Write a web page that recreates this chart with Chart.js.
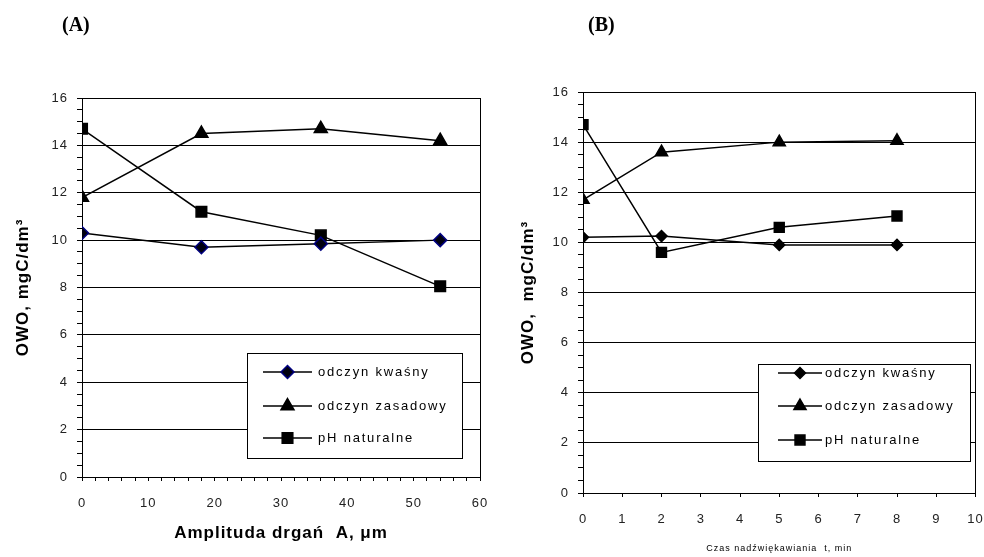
<!DOCTYPE html>
<html>
<head>
<meta charset="utf-8">
<script src="https://cdn.jsdelivr.net/npm/chart.js@4/dist/chart.umd.min.js"></script>
<style>
    body { margin: 0; background: #fff; }
    .wrap { position: absolute; top: 0; height: 557px; }
    #wrap-a { left: 0; width: 492px; }
    #wrap-b { left: 490px; width: 494px; }
</style>
</head>
<body>
<div class="wrap" id="wrap-a"><canvas id="chart-a"></canvas></div>
<div class="wrap" id="wrap-b"><canvas id="chart-b"></canvas></div>
<script>
const seriesNames = ['odczyn kwaśny', 'odczyn zasadowy', 'pH naturalne']

// (A) amplituda drgań, µm
const amplitudes = [0, 18, 36, 54]
const ampKwasny = [10.3, 9.7, 9.85, 10.0]
const ampZasadowy = [11.8, 14.5, 14.7, 14.2]
const ampNaturalne = [14.7, 11.2, 10.2, 8.05]

// (B) czas nadźwiękawiania, min
const times = [0, 2, 5, 8]
const timeKwasny = [10.2, 10.25, 9.9, 9.9]
const timeZasadowy = [11.7, 13.6, 14.0, 14.05]
const timeNaturalne = [14.7, 9.6, 10.6, 11.05]

const FONT = "'Liberation Sans', Arial, sans-serif"

const toPoints = (xs, ys) => xs.map((x, i) => ({x, y: ys[i]}))

const isMajor = (v, step) => Math.abs(v / step - Math.round(v / step)) < 1e-9

// old Excel text is spaced out a bit
const spacedText = {
    id: 'spacedText',
    beforeDraw(chart) { chart.ctx.letterSpacing = '1px' },
    afterDraw(chart) { chart.ctx.letterSpacing = '0px' }
}

// panel label "(A)" / "(B)"
const panelLabel = {
    id: 'panelLabel',
    afterDraw(chart, args, opts) {
        const ctx = chart.ctx
        ctx.save()
        ctx.letterSpacing = '0px'
        ctx.font = "bold 20px 'Liberation Serif', 'Times New Roman', serif"
        ctx.fillStyle = '#000'
        ctx.textBaseline = 'middle'
        ctx.fillText(opts.text, opts.x, opts.y)
        ctx.restore()
    }
}

// boxed legend inside the plot, like the Excel original
const boxLegend = {
    id: 'boxLegend',
    afterDraw(chart, args, opts) {
        const ctx = chart.ctx
        ctx.save()
        ctx.fillStyle = '#fff'
        ctx.fillRect(opts.x, opts.y, opts.w, opts.h)
        ctx.strokeStyle = '#000'
        ctx.lineWidth = 1
        ctx.strokeRect(opts.x + 0.5, opts.y + 0.5, opts.w, opts.h)
        chart.data.datasets.forEach((ds, i) => {
            const y = opts.rows[i]
            ctx.strokeStyle = '#000'
            ctx.lineWidth = 1.5
            ctx.beginPath()
            ctx.moveTo(opts.lineX1, y)
            ctx.lineTo(opts.lineX2, y)
            ctx.stroke()
            ctx.fillStyle = ds.pointBackgroundColor
            ctx.strokeStyle = ds.pointBorderColor
            Chart.helpers.drawPoint(ctx, {
                pointStyle: ds.pointStyle,
                radius: ds.pointRadius,
                borderWidth: ds.pointBorderWidth,
                rotation: 0
            }, (opts.lineX1 + opts.lineX2) / 2, y)
            ctx.fillStyle = '#000'
            ctx.font = '13px ' + FONT
            ctx.letterSpacing = '1.8px'
            ctx.textBaseline = 'middle'
            ctx.fillText(ds.label, opts.textX, y)
        })
        ctx.restore()
    }
}

function makeDatasets(xs, kwasny, zasadowy, naturalne, diamondFill, diamondBorder, r) {
    const base = {
        borderColor: '#000',
        borderWidth: 1.5,
        tension: 0,
        pointBorderWidth: 1.5
    }
    return [
        {...base, label: seriesNames[0], data: toPoints(xs, kwasny), pointStyle: 'rectRot',
            pointRadius: r.diamond, pointBackgroundColor: diamondFill, pointBorderColor: diamondBorder},
        {...base, label: seriesNames[1], data: toPoints(xs, zasadowy), pointStyle: 'triangle',
            pointRadius: r.triangle, pointBackgroundColor: '#000', pointBorderColor: '#000'},
        {...base, label: seriesNames[2], data: toPoints(xs, naturalne), pointStyle: 'rect',
            pointRadius: r.square, pointBackgroundColor: '#000', pointBorderColor: '#000'}
    ]
}

function makeOptions(cfg) {
    return {
        responsive: true,
        maintainAspectRatio: false,
        animation: false,
        layout: {padding: {top: cfg.top, right: cfg.right, left: 0, bottom: 0}},
        plugins: {
            legend: {display: false},
            tooltip: {enabled: false},
            panelLabel: cfg.panel,
            boxLegend: cfg.legend
        },
        scales: {
            x: {
                type: 'linear',
                min: 0,
                max: cfg.xMax,
                afterFit: s => {
                    s.height = cfg.xHeight
                    s.paddingLeft = 0
                    s.paddingRight = 0
                },
                ticks: {
                    stepSize: cfg.xStep,
                    autoSkip: false,
                    maxRotation: 0,
                    padding: 15,
                    color: '#222',
                    font: {family: FONT, size: 13},
                    callback: v => isMajor(v, cfg.xMajor) ? String(v) : ''
                },
                grid: {
                    drawOnChartArea: true,
                    color: c => c.tick && c.tick.value === cfg.xMax ? '#000' : 'rgba(0,0,0,0)',
                    tickColor: '#000',
                    tickLength: 4,
                    lineWidth: 1
                },
                border: {display: true, color: '#000', width: 1},
                title: {
                    display: true,
                    text: cfg.xTitle,
                    color: '#000',
                    font: cfg.xTitleFont,
                    padding: {top: 0, bottom: cfg.xTitlePad}
                }
            },
            y: {
                min: 0,
                max: 16,
                afterFit: s => { s.width = cfg.yWidth },
                ticks: {
                    stepSize: 0.5,
                    autoSkip: false,
                    padding: 9,
                    color: '#222',
                    font: {family: FONT, size: 13},
                    callback: v => isMajor(v, 2) ? String(v) : ''
                },
                grid: {
                    color: c => c.tick && isMajor(c.tick.value, 2) ? '#000' : 'rgba(0,0,0,0)',
                    tickColor: '#000',
                    tickLength: 5,
                    lineWidth: 1
                },
                border: {display: true, color: '#000', width: 1},
                title: {
                    display: true,
                    text: cfg.yTitle,
                    color: '#000',
                    font: {family: FONT, size: 17, weight: 'bold'},
                    padding: {top: cfg.yTitlePad, bottom: 0}
                }
            }
        }
    }
}

new Chart(document.getElementById('chart-a'), {
    type: 'line',
    data: {
        datasets: makeDatasets(amplitudes, ampKwasny, ampZasadowy, ampNaturalne, '#000010', '#000080',
            {diamond: 6.5, triangle: 7.5, square: 7.5})
    },
    options: makeOptions({
        top: 98, right: 12, yWidth: 82, xHeight: 80,
        xMax: 60, xStep: 2, xMajor: 10,
        xTitle: 'Amplituda drgań  A, μm',
        xTitleFont: {family: FONT, size: 17, weight: 'bold'},
        xTitlePad: 13,
        yTitle: 'OWO, mgC/dm³',
        yTitlePad: 13,
        panel: {text: '(A)', x: 62, y: 26},
        legend: {x: 247, y: 353, w: 215, h: 105, rows: [372, 406, 438], lineX1: 263, lineX2: 312, textX: 318}
    }),
    plugins: [spacedText, panelLabel, boxLegend]
})

new Chart(document.getElementById('chart-b'), {
    type: 'line',
    data: {
        datasets: makeDatasets(times, timeKwasny, timeZasadowy, timeNaturalne, '#000', '#000',
            {diamond: 5.5, triangle: 7, square: 7})
    },
    options: makeOptions({
        top: 92, right: 5, yWidth: 93, xHeight: 64,
        xMax: 10, xStep: 1, xMajor: 1,
        xTitle: 'Czas nadźwiękawiania  t, min',
        xTitleFont: {family: FONT, size: 9},
        xTitlePad: 3,
        yTitle: 'OWO,  mgC/dm³',
        yTitlePad: 28,
        panel: {text: '(B)', x: 98, y: 26},
        legend: {x: 268, y: 364, w: 212, h: 97, rows: [373, 406, 440], lineX1: 288, lineX2: 332, textX: 335}
    }),
    plugins: [spacedText, panelLabel, boxLegend]
})
</script>
</body>
</html>
